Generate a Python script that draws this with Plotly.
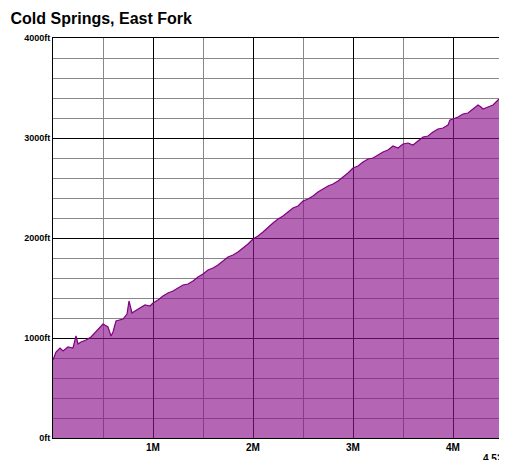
import plotly.graph_objects as go

miles = [0.00,0.03,0.07,0.10,0.15,0.20,0.23,0.25,0.28,0.33,0.38,0.43,0.48,0.50,0.55,0.58,0.60,0.63,0.70,0.74,0.76,0.79,0.82,0.87,0.92,0.97,1.00,
         1.05,1.10,1.15,1.20,1.25,1.30,1.35,1.40,1.45,1.50,1.55,1.60,1.65,1.70,1.75,1.80,1.85,1.90,1.95,2.00,
         2.05,2.10,2.15,2.20,2.25,2.30,2.35,2.40,2.45,2.50,2.55,2.60,2.65,2.70,2.75,2.80,2.85,2.90,2.95,3.00,
         3.05,3.10,3.15,3.20,3.25,3.30,3.35,3.40,3.45,3.50,3.55,3.60,3.65,3.70,3.75,3.80,3.85,3.90,3.95,3.97,4.00,
         4.05,4.10,4.15,4.20,4.25,4.28,4.30,4.35,4.40,4.45,4.50,4.52]
elev = [780,860,900,870,910,900,1020,940,960,980,1010,1060,1120,1140,1110,1020,1060,1170,1190,1240,1370,1250,1270,1300,1330,1320,1350,
        1380,1420,1450,1470,1500,1530,1540,1570,1610,1640,1680,1700,1730,1770,1810,1830,1860,1900,1940,1990,
        2020,2060,2110,2150,2190,2220,2260,2300,2320,2370,2390,2420,2460,2490,2520,2540,2570,2610,2650,2700,
        2720,2760,2790,2800,2830,2860,2880,2920,2900,2940,2950,2930,2970,3010,3020,3060,3090,3100,3130,3180,3190,
        3210,3240,3250,3290,3330,3310,3290,3310,3330,3380,3420,3420]

fig = go.Figure(go.Scatter(x=miles, y=elev, mode="lines", fill="tozeroy",
                           line=dict(color="#800080", width=1.2), fillcolor="rgba(140,20,140,0.65)"))

fig.update_layout(
    width=507, height=460, margin=dict(l=45, r=10, t=30, b=30),
    plot_bgcolor="white", paper_bgcolor="white", showlegend=False,
    font=dict(family="Liberation Sans, Arial", size=10, color="black"),
    title=dict(text="<b>Cold Springs, East Fork</b>", x=0.005, xanchor="left", y=0.99, yanchor="top",
               font=dict(size=16, color="black")),
)
fig.update_xaxes(range=[0, 4.52], tickvals=[1, 2, 3, 4], ticktext=["<b>1M</b>", "<b>2M</b>", "<b>3M</b>", "<b>4M</b>"],
                 showgrid=True, gridcolor="black", gridwidth=1, automargin=False,
                 minor=dict(dtick=0.5, showgrid=True, gridcolor="#888888", gridwidth=1),
                 showline=True, linecolor="black", mirror=True, zeroline=False, ticks="", layer="above traces")
fig.update_yaxes(range=[0, 4000], tickvals=[0, 1000, 2000, 3000, 4000],
                 ticktext=["<b>0ft</b>", "<b>1000ft</b>", "<b>2000ft</b>", "<b>3000ft</b>", "<b>4000ft</b>"],
                 showgrid=True, gridcolor="black", gridwidth=1, automargin=False,
                 minor=dict(dtick=200, showgrid=True, gridcolor="#888888", gridwidth=1),
                 showline=True, linecolor="black", mirror=True, zeroline=False, ticks="", ticklabelstandoff=0,
                 tickfont=dict(size=9), layer="above traces")
fig.add_annotation(x=4.52, y=0, yref="y", text="<b>4.52M</b>", showarrow=False, xanchor="right",
                   yanchor="top", yshift=-13, xshift=8, font=dict(size=10))
fig.write_html("out.html")
